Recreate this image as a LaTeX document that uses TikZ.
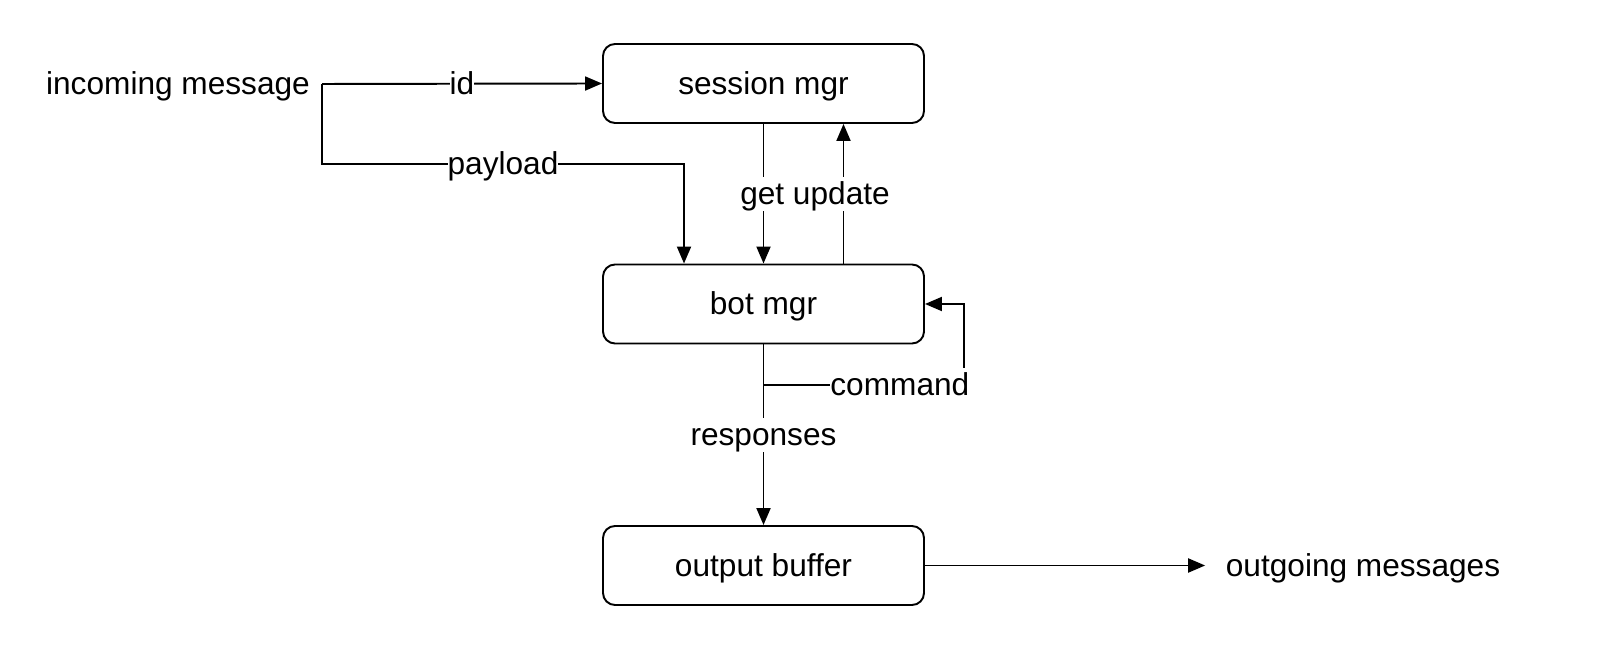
\documentclass[tikz,border=0pt]{standalone}
\usepackage{fontspec}
\setmainfont{Liberation Sans}
\usetikzlibrary{arrows.meta}
\begin{document}
\begin{tikzpicture}[
    every node/.append style={text height=7.6pt, text depth=1.6pt},
    box/.style={draw, line width=0.55pt, rounded corners=1.2mm, minimum width=3.21cm, minimum height=0.79cm},
    flow/.style={line width=0.55pt, -{Triangle[length=1.7mm,width=1.4mm]}},
    lbl/.style={fill=white, inner xsep=0pt, inner ysep=0.3pt},
    font=\fontsize{9}{11}\selectfont]
    \useasboundingbox (0,0) rectangle (16,6.7);
    \node[box] (session) at (7.635,5.865) {session mgr};
    \node[box] (bot) at (7.635,3.66) {bot mgr};
    \node[box] (buffer) at (7.635,1.045) {output buffer};
    \node (in) at (1.78,5.86) {incoming message};
    \node[inner sep=2mm] (out) at (13.63,1.045) {outgoing messages};
    \coordinate (split) at (3.22,5.86);
    \coordinate (drop) at (6.84,5.06);
    \coordinate (cmd) at (7.635,2.85);
    \coordinate (loop) at (9.64,2.85);
    \draw[flow] (split) -- node[lbl] {id} (session.west);
    \draw[flow] (split) |- node[lbl, pos=.75] {payload} (drop) -- (drop |- bot.north);
    \draw[flow] (session.south) -- (bot.north);
    \draw[flow] ([xshift=0.8cm]bot.north) -- ([xshift=0.8cm]session.south);
    \node[lbl] (upd) at (8.15,4.76) {get update};
    \draw[flow] (bot.south) -- node[lbl] {responses} (buffer.north);
    \draw[flow] (cmd) -- node[lbl, pos=.68] {command} (loop) |- (bot.east);
    \draw[flow] (buffer) -- (out);
\end{tikzpicture}
\end{document}
